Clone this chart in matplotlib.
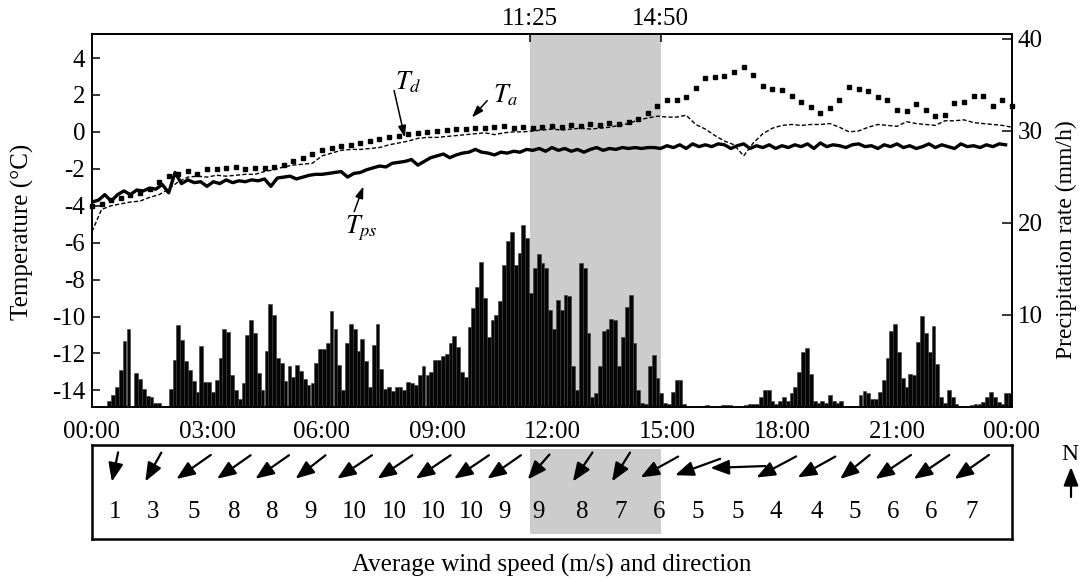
import numpy as np
import matplotlib
matplotlib.use('Agg')
import matplotlib.pyplot as plt
from matplotlib.transforms import offset_copy

plt.rcParams['font.family'] = ['Liberation Serif', 'DejaVu Serif']
plt.rcParams['mathtext.fontset'] = 'stix'
plt.rcParams['font.size'] = 18
plt.rcParams['axes.unicode_minus'] = False

# precipitation rate (mm/h), 6-min bins, one row per hour
precip = [
    0, 0, 0, 0, 0.7, 1.3, 2.2, 4.0, 7.2, 8.5,
    0, 3.7, 3.0, 2.0, 1.2, 1.1, 0.4, 0.4, 0.1, 0.1,
    2.0, 5.1, 8.9, 7.3, 5.0, 4.0, 2.8, 1.6, 6.6, 2.7,
    2.7, 1.6, 2.9, 5.3, 8.5, 8.1, 3.5, 1.8, 0.9, 2.6,
    7.8, 9.4, 8.0, 3.7, 1.9, 6.1, 11.2, 10.0, 5.3, 4.8,
    2.8, 4.4, 3.3, 4.6, 3.9, 3.0, 2.4, 2.6, 4.8, 6.3,
    6.3, 7.0, 10.4, 8.5, 4.6, 1.9, 7.0, 9.0, 8.5, 6.1,
    7.4, 5.0, 2.2, 6.7, 9.0, 4.1, 2.0, 2.2, 1.7, 2.2,
    2.2, 1.8, 2.7, 2.6, 2.4, 3.5, 4.4, 3.5, 3.8, 5.1,
    5.1, 5.5, 5.8, 6.9, 7.7, 6.5, 3.8, 3.3, 8.7, 10.7,
    13.0, 15.7, 11.8, 7.6, 9.4, 10.0, 11.5, 15.4, 18.0, 19.0,
    15.4, 16.7, 19.8, 18.3, 12.4, 15.1, 16.6, 15.6, 15.1, 10.5,
    8.5, 11.6, 10.5, 12.2, 12.0, 4.4, 1.8, 15.6, 15.1, 8.0,
    1.1, 1.5, 4.5, 8.2, 8.5, 9.6, 9.5, 4.5, 7.6, 10.9,
    12.2, 6.9, 1.8, 0.4, 0.3, 4.5, 5.6, 3.1, 1.5, 0.4,
    0.3, 1.6, 2.9, 2.9, 0.3, 0, 0, 0, 0, 0.1,
    0.2, 0, 0, 0, 0.2, 0.2, 0.2, 0, 0, 0,
    0.2, 0.3, 0.3, 0.3, 1.1, 1.8, 1.8, 0.7, 0.3, 0.7,
    1.1, 0.7, 1.5, 2.2, 3.8, 6.0, 6.4, 3.6, 0.7, 0.4,
    0.7, 0.4, 1.3, 0.7, 0.4, 0.6, 0, 0, 0, 0,
    1.3, 1.7, 1.5, 0.9, 0.9, 1.6, 2.9, 5.3, 8.2, 9.0,
    6.0, 3.1, 2.2, 3.6, 3.5, 7.1, 9.9, 8.0, 6.0, 8.8,
    4.7, 1.1, 0.4, 1.8, 1.1, 0.3, 0, 0.1, 0.1, 0.2,
    0.3, 0.3, 0.5, 1.1, 1.6, 1.1, 0.5, 0.3, 1.5, 1.5,
]
precip_time = np.arange(len(precip)) * 0.1

# air temperature Ta, every 15 min
ta = [
    -4.0, -3.9, -3.7, -3.6, -3.4, -3.3, -3.1, -2.7,
    -2.4, -2.3, -2.1, -2.3, -2.0, -2.0, -1.95, -1.9,
    -2.0, -1.95, -1.95, -1.9, -1.8, -1.6, -1.4, -1.2,
    -1.0, -0.85, -0.75, -0.7, -0.6, -0.5, -0.4, -0.3,
    -0.2, -0.1, -0.05, 0.0, 0.05, 0.1, 0.15, 0.15,
    0.2, 0.2, 0.25, 0.3, 0.2, 0.25, 0.2, 0.25,
    0.3, 0.25, 0.35, 0.3, 0.4, 0.35, 0.5, 0.45,
    0.55, 0.7, 1.0, 1.4, 1.7, 1.75, 1.9, 2.4,
    2.9, 2.95, 3.0, 3.25, 3.5, 3.1, 2.5, 2.3,
    2.25, 1.95, 1.6, 1.35, 1.0, 1.3, 1.7, 2.45,
    2.3, 2.2, 1.9, 1.7, 1.2, 1.15, 1.5, 1.2,
    0.85, 0.9, 1.55, 1.6, 1.95, 1.95, 1.4, 1.75,
    1.4,
]
ta_time = np.arange(len(ta)) * 0.25

# dew point Td, every 15 min
td = [
    -5.4, -4.2, -4.0, -3.9, -3.8, -3.75, -3.55, -3.4,
    -3.1, -2.7, -2.45, -2.4, -2.45, -2.35, -2.4, -2.35,
    -2.3, -2.3, -2.15, -2.05, -1.9, -1.8, -1.75, -1.7,
    -1.3, -1.15, -1.0, -0.95, -0.95, -0.9, -0.85, -0.7,
    -0.6, -0.5, -0.35, -0.3, -0.3, -0.25, -0.2, -0.15,
    -0.1, -0.05, -0.15, -0.05, 0.0, 0.0, 0.05, 0.1,
    0.15, 0.1, 0.15, 0.2, 0.15, 0.2, 0.25, 0.35,
    0.45, 0.65, 0.75, 0.85, 0.8, 0.8, 0.9, 0.4,
    0.15, -0.2, -0.5, -0.7, -1.3, -0.6, -0.1, 0.2,
    0.35, 0.4, 0.35, 0.4, 0.4, 0.45, 0.25, 0.0,
    0.05, 0.25, 0.4, 0.35, 0.3, 0.55, 0.45, 0.4,
    0.35, 0.6, 0.6, 0.65, 0.5, 0.45, 0.4, 0.35,
    0.25,
]
td_time = np.arange(len(td)) * 0.25

# precipitation particle temperature Tps, every 10 min
tps = [
    -3.8, -3.7, -3.4, -3.75, -3.4, -3.2,
    -3.4, -3.15, -3.2, -3.05, -3.1, -2.85,
    -3.3, -2.2, -2.8, -2.6, -2.75, -2.7,
    -2.95, -2.7, -2.8, -2.6, -2.75, -2.65,
    -2.7, -2.6, -2.65, -2.55, -2.95, -2.5,
    -2.45, -2.4, -2.55, -2.45, -2.35, -2.3,
    -2.3, -2.25, -2.2, -2.15, -2.45, -2.25,
    -2.2, -2.05, -1.95, -1.85, -1.9, -1.7,
    -1.65, -1.6, -1.5, -1.8, -1.6, -1.4,
    -1.3, -1.2, -1.4, -1.25, -1.15, -1.1,
    -0.95, -1.1, -1.15, -1.25, -1.1, -1.15,
    -1.05, -1.1, -0.95, -1.0, -0.9, -1.05,
    -0.85, -1.0, -0.9, -1.05, -0.95, -1.1,
    -0.95, -0.85, -1.0, -0.9, -0.95, -0.85,
    -0.9, -0.85, -0.9, -0.85, -0.85, -0.9,
    -0.75, -0.85, -0.7, -0.9, -0.65, -0.8,
    -0.7, -0.8, -0.65, -0.7, -0.9, -0.75,
    -0.65, -0.9, -0.75, -0.85, -0.7, -0.9,
    -0.75, -0.85, -0.7, -0.8, -0.65, -0.9,
    -0.6, -0.8, -0.7, -0.75, -0.85, -0.7,
    -0.65, -0.8, -0.75, -0.9, -0.7, -0.8,
    -0.65, -0.85, -0.75, -0.9, -0.8, -0.65,
    -0.85, -0.7, -0.8, -0.9, -0.65, -0.8,
    -0.75, -0.85, -0.7, -0.8, -0.65, -0.7,
]
tps_time = np.arange(len(tps)) / 6.0

# shaded period
shade_start = 11 + 25 / 60
shade_end = 14 + 50 / 60

# hourly wind
wind_hours = [0.6, 1.6, 2.65, 3.7, 4.7, 5.7, 6.85, 7.9, 8.9, 9.9, 10.75, 11.65,
              12.8, 13.8, 14.8, 15.8, 16.85, 17.85, 18.9, 19.9, 20.9, 21.9, 22.95]
wind_speed = [1, 3, 5, 8, 8, 9, 10, 10, 10, 10, 9, 9, 8, 7, 6, 5, 5, 4, 4, 5, 6, 6, 7]
# direction the arrow points (deg, counter-clockwise from east)
wind_angle = [258, 241, 215, 215, 215, 218, 214, 214, 214, 214, 215, 229,
              236, 238, 209, 200, 182, 208, 209, 219, 214, 214, 215]
arrow_len = [30, 33, 42, 41, 41, 38, 42, 42, 42, 42, 41, 33,
             35, 34, 43, 48, 55, 45, 43, 38, 43, 43, 42]

xtick_labels = ['00:00', '03:00', '06:00', '09:00', '12:00', '15:00', '18:00', '21:00', '00:00']

fig = plt.figure(figsize=(10.8, 5.8), dpi=100)
axp = fig.add_axes([92 / 1080, 173 / 580, 920 / 1080, 373 / 580])
axt = axp.twinx()

# precipitation bars (right axis)
axp.axvspan(shade_start, shade_end, color='#cccccc', lw=0, zorder=0)
axp.bar(precip_time, precip, width=0.1, align='edge', color='#050505',
        edgecolor='#3a3a3a', linewidth=0.4, zorder=2)
axp.set_xlim(0, 24)
axp.set_ylim(0, 40.5)
axp.yaxis.tick_right()
axp.yaxis.set_label_position('right')
axp.set_yticks([10, 20, 30, 40])
axp.tick_params(axis='y', direction='in', length=7, width=1.1, pad=4)
axp.set_xticks(range(0, 25, 3))
axp.set_xticklabels(xtick_labels)
axp.tick_params(axis='x', length=0, pad=10)
axp.set_ylabel('Precipitation rate (mm/h)', fontsize=17)
axp.yaxis.set_label_coords(1.048, 0.45)

# temperatures (left axis)
axt.plot(td_time, td, color='black', lw=1.0, ls=(0, (3, 1.6)), zorder=3)
axt.plot(ta_time, ta, color='black', ls='none', marker='s', ms=3.3, zorder=4, clip_on=False)
axt.plot(tps_time, tps, color='black', lw=2.4, zorder=5)
axt.set_ylim(-14.9, 5.3)
axt.set_yticks(range(-14, 5, 2))
axt.yaxis.tick_left()
axt.yaxis.set_label_position('left')
axt.tick_params(axis='y', direction='in', length=6, width=1.1, pad=5)
axt.set_ylabel('Temperature (°C)')
axt.yaxis.set_label_coords(-0.063, 0.47)

for a in (axp, axt):
    for s in a.spines.values():
        s.set_linewidth(1.2)

arr = dict(arrowstyle='-|>,head_length=0.5,head_width=0.17', color='black',
           lw=1.1, mutation_scale=14, shrinkA=0, shrinkB=0)
axt.text(8.24, 2.7, r'$T_d$', ha='center', va='center', fontsize=19)
axt.annotate('', xy=(8.16, -0.31), xytext=(7.88, 2.24), arrowprops=arr)
axt.text(10.8, 2.0, r'$T_a$', ha='center', va='center', fontsize=19)
axt.annotate('', xy=(9.91, 0.78), xytext=(10.31, 1.69), arrowprops=arr)
axt.text(7.02, -5.2, r'$T_{ps}$', ha='center', va='center', fontsize=19)
axt.annotate('', xy=(7.08, -2.95), xytext=(6.84, -4.32), arrowprops=arr)

# top ticks marking the shaded period
top = axp.secondary_xaxis('top')
top.set_xticks([shade_start, shade_end])
top.set_xticklabels(['11:25', '14:50'])
top.tick_params(direction='in', length=6, width=1.1, pad=3)
top.spines['top'].set_linewidth(1.2)

# wind panel
axw = fig.add_axes([92 / 1080, 41 / 580, 920 / 1080, 94 / 580])
axw.set_xlim(0, 24)
axw.set_ylim(0, 1)
axw.set_xticks([])
axw.set_yticks([])
for s in axw.spines.values():
    s.set_linewidth(1.8)
axw.axvspan(shade_start, shade_end, ymin=0.05, ymax=0.96, color='#cccccc', lw=0)

wtrans = axw.get_xaxis_transform()
warr = dict(arrowstyle='-|>,head_length=0.8,head_width=0.32', color='black',
            lw=1.6, mutation_scale=14, shrinkA=0, shrinkB=0)
for h, sp, ang, L in zip(wind_hours, wind_speed, wind_angle, arrow_len):
    dx = 0.5 * L * np.cos(np.deg2rad(ang))
    dy = 0.5 * L * np.sin(np.deg2rad(ang))
    axw.annotate('', xy=(h, 0.766),
                 xycoords=offset_copy(wtrans, fig=fig, x=dx, y=dy, units='dots'),
                 xytext=(h, 0.766),
                 textcoords=offset_copy(wtrans, fig=fig, x=-dx, y=-dy, units='dots'),
                 arrowprops=warr)
    axw.text(h, 0.29, str(sp), transform=wtrans, ha='center', va='center', fontsize=18)

# north arrow
fig.text(1070 / 1080, 1 - 455 / 580, 'N', ha='center', va='center', fontsize=17)
axw.annotate('', xy=(1071, 580 - 467), xycoords='figure pixels',
             xytext=(1071, 580 - 497), textcoords='figure pixels',
             arrowprops=warr, annotation_clip=False)

fig.text(552 / 1080, 1 - 565 / 580, 'Average wind speed (m/s) and direction',
         ha='center', va='center', fontsize=18)

fig.savefig('out.png', dpi=100)
